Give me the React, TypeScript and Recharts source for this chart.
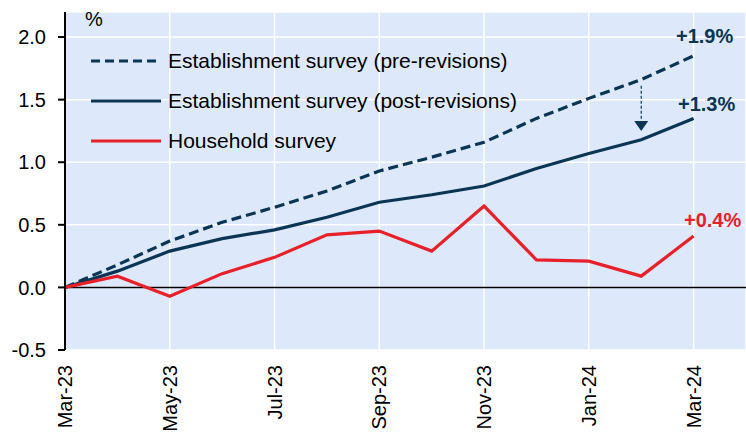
import {
  LineChart, Line, XAxis, YAxis, CartesianGrid, ReferenceLine, ReferenceDot,
} from "recharts";

// ─── Data (cumulative change since Mar-23, %) ─────────────────────────────────
const months = ["Mar-23","Apr-23","May-23","Jun-23","Jul-23","Aug-23","Sep-23","Oct-23","Nov-23","Dec-23","Jan-24","Feb-24","Mar-24"];
const preRevisions  = [0, 0.18, 0.37, 0.52, 0.64, 0.77, 0.93, 1.04, 1.16, 1.35, 1.51, 1.66, 1.85];
const postRevisions = [0, 0.13, 0.29, 0.39, 0.46, 0.56, 0.68, 0.74, 0.81, 0.95, 1.07, 1.18, 1.35];
const household     = [0, 0.09, -0.07, 0.11, 0.24, 0.42, 0.45, 0.29, 0.65, 0.22, 0.21, 0.09, 0.41];
const yTicks = [-0.5, 0, 0.5, 1.0, 1.5, 2.0];
const xTicks = [0, 2, 4, 6, 8, 10, 12];
const endLabels = { pre: "+1.9%", post: "+1.3%", house: "+0.4%" };
const seriesNames = [
  "Establishment survey (pre-revisions)",
  "Establishment survey (post-revisions)",
  "Household survey",
];

const data = months.map((m, i) => ({
  i, month: m, pre: preRevisions[i], post: postRevisions[i], house: household[i],
}));

const NAVY = "#0b3553";
const RED = "#e8202a";
const FONT = "'Liberation Sans', Arial, sans-serif";

// ─── Rotated month ticks ──────────────────────────────────────────────────────
const MonthTick = ({ x, payload }: any) => {
  const y = 350;
  return (
    <text x={x} y={y} transform={`rotate(-90, ${x}, ${y})`} dx={-15} dy={7}
      textAnchor="end" fontSize={20} fontFamily={FONT} fill="#000">
      {months[payload.value]}
    </text>
  );
};

// ─── Label only on the last point ─────────────────────────────────────────────
const endLabel = (text: string, color: string, dx: number, dy: number) => (props: any) => {
  const { x, y, index } = props;
  if (index !== months.length - 1) return null;
  return (
    <text x={x + dx} y={y + dy} textAnchor="middle" fontSize={20} fontWeight="bold"
      fontFamily={FONT} fill={color}>{text}</text>
  );
};

const LegendBox = () => {
  const rows = [
    { name: seriesNames[0], color: NAVY, dash: "9 5" },
    { name: seriesNames[1], color: NAVY, dash: undefined },
    { name: seriesNames[2], color: RED, dash: undefined },
  ];
  return (
    <div style={{ position: "absolute", left: 90, top: 41, fontFamily: FONT, fontSize: 21, color: "#000" }}>
      {rows.map((r) => (
        <div key={r.name} style={{ display: "flex", alignItems: "center", height: 40, whiteSpace: "nowrap" }}>
          <svg width={72} height={6} style={{ marginRight: 6 }}>
            <line x1={1} y1={3} x2={71} y2={3} stroke={r.color} strokeWidth={3.2} strokeDasharray={r.dash} />
          </svg>
          <span>{r.name}</span>
        </div>
      ))}
    </div>
  );
};

const Arrowhead = ({ cx, cy }: any) => (
  <path d={`M${cx - 7},${cy - 10} L${cx + 7},${cy - 10} L${cx},${cy} Z`} fill={NAVY} />
);

export default function App() {
  return (
    <div style={{ position: "absolute", left: 0, top: 0, width: 746, height: 434, fontFamily: FONT }}>
      <LineChart width={746} height={434} data={data} margin={{ top: 12, right: 0, left: 0, bottom: 0 }}>
        <CartesianGrid fill="#dde9fb" stroke="#ffffff" strokeWidth={1.5} />
        <XAxis dataKey="i" type="number" domain={[0, 13]} ticks={xTicks} height={84}
          axisLine={false} tickLine={false} tick={<MonthTick />} interval={0} />
        <YAxis type="number" domain={[-0.5, 2.2]} ticks={yTicks} width={65}
          axisLine={{ stroke: "#000", strokeWidth: 2 }} tickLine={{ stroke: "#000", strokeWidth: 2 }} tickSize={7}
          tickMargin={12}
          tick={{ fontSize: 20, fill: "#000", fontFamily: FONT }} tickFormatter={(v: number) => v.toFixed(1)}
          allowDataOverflow />
        <ReferenceLine y={0} stroke="#000" strokeWidth={1.5} />
        <ReferenceLine segment={[{ x: 11, y: 1.61 }, { x: 11, y: 1.34 }]} stroke={NAVY} strokeWidth={1.2} strokeDasharray="3 2" />
        <ReferenceDot x={11} y={1.25} r={0} shape={<Arrowhead />} />
        <Line dataKey="pre" name={seriesNames[0]} type="linear" stroke={NAVY} strokeWidth={3.2} strokeDasharray="10 5" dot={false}
          isAnimationActive={false} label={endLabel(endLabels.pre, NAVY, 11, -13)} />
        <Line dataKey="post" name={seriesNames[1]} type="linear" stroke={NAVY} strokeWidth={3.2} dot={false}
          isAnimationActive={false} label={endLabel(endLabels.post, NAVY, 13, -7)} />
        <Line dataKey="house" name={seriesNames[2]} type="linear" stroke={RED} strokeWidth={3.2} dot={false}
          isAnimationActive={false} label={endLabel(endLabels.house, RED, 19, -9)} />
      </LineChart>
      <div style={{ position: "absolute", left: 85, top: 8, fontSize: 20, color: "#000" }}>%</div>
      <LegendBox />
    </div>
  );
}
